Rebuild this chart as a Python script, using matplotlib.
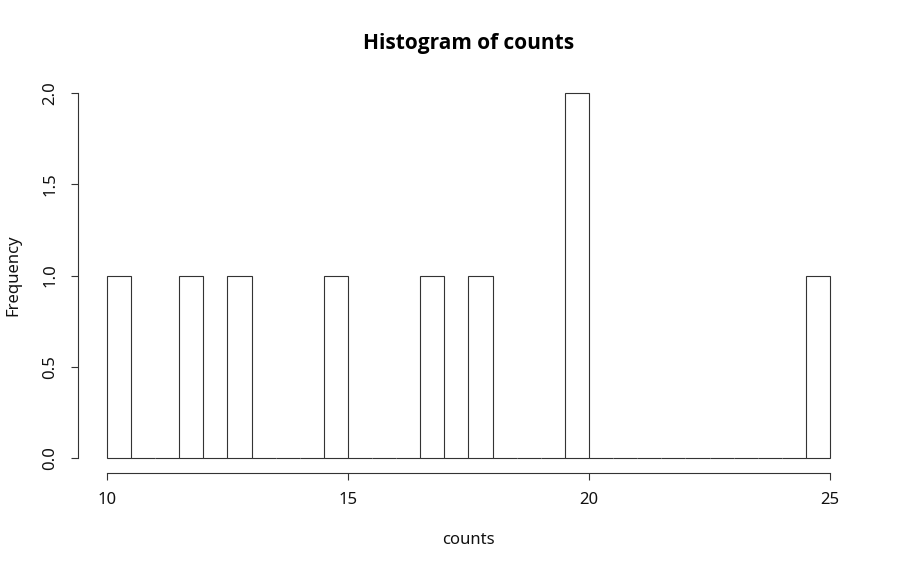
import numpy as np
import matplotlib.pyplot as plt

# bin edges (width 0.5) and the frequency in each bin
bin_edges = np.arange(10, 25.5, 0.5)
freq = [1, 0, 0, 1, 0, 1, 0, 0, 0, 1, 0, 0, 0, 1, 0, 1, 0, 0, 0, 2,
        0, 0, 0, 0, 0, 0, 0, 0, 0, 1]
x_ticks = [10, 15, 20, 25]
y_ticks = [0.0, 0.5, 1.0, 1.5, 2.0]

plt.rcParams['font.family'] = ['Noto Sans', 'DejaVu Sans']

fig = plt.figure(figsize=(9, 5.71), dpi=100)
ax = fig.add_axes([0.0867, 0.1723, 0.8677, 0.6904])

ax.bar(bin_edges[:-1], freq, width=0.5, align='edge', fill=False,
       edgecolor='#333333', linewidth=0.8)

ax.set_xlim(9.4, 25.6)
ax.set_ylim(-0.08, 2.08)

for s in ['top', 'right']:
    ax.spines[s].set_visible(False)
ax.spines['bottom'].set_bounds(10, 25)
ax.spines['left'].set_bounds(0, 2)
for s in ['bottom', 'left']:
    ax.spines[s].set_linewidth(0.8)
    ax.spines[s].set_color('#333333')

ax.set_xticks(x_ticks)
ax.set_xticklabels([str(t) for t in x_ticks])
ax.set_yticks(y_ticks)
ax.set_yticklabels(['%.1f' % t for t in y_ticks], rotation=90, va='center')
ax.tick_params(length=5.2, width=0.8, color='#333333', labelsize=12,
               labelcolor='#111111', pad=9)

ax.set_xlabel('counts', fontsize=12, labelpad=17, color='#111111')
ax.set_ylabel('Frequency', fontsize=12, labelpad=15, color='#111111')
ax.set_title('Histogram of counts', fontsize=15, fontweight='bold',
             family='Open Sans', pad=21)

fig.savefig('out.png', dpi=100)
